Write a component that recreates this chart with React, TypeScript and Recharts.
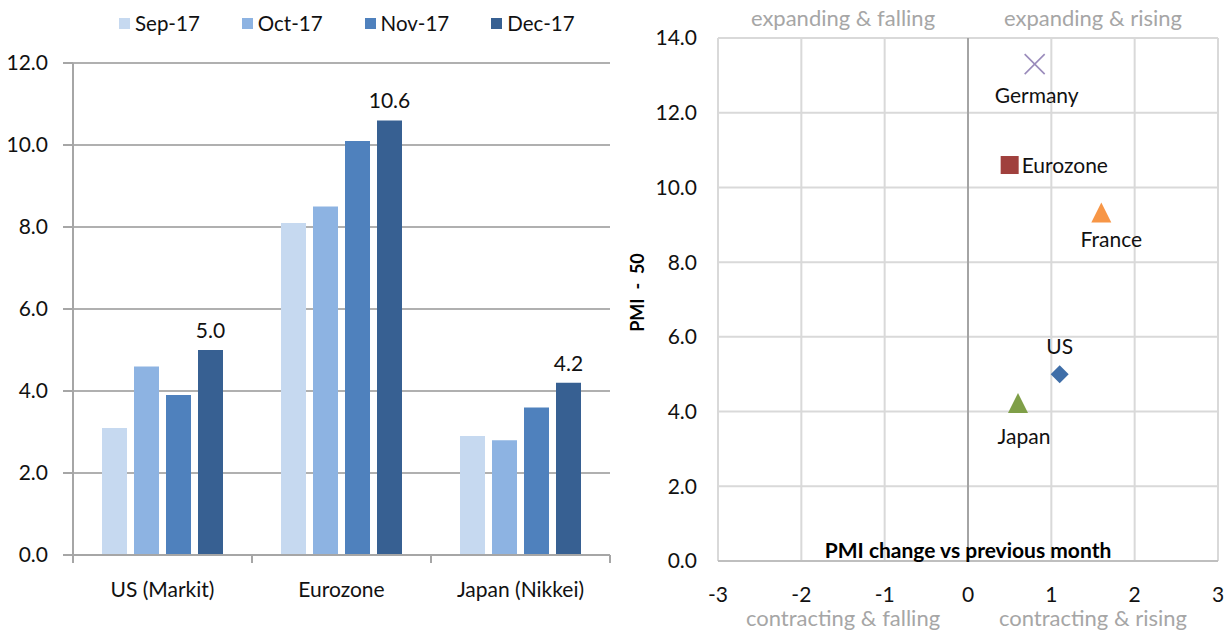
import {
  BarChart,
  Bar,
  XAxis,
  YAxis,
  CartesianGrid,
  LabelList,
  ScatterChart,
  Scatter,
  ReferenceLine,
  ReferenceArea,
  Label,
} from 'recharts';

// left panel: PMI - 50 by region, last four months
const regions = ['US (Markit)', 'Eurozone', 'Japan (Nikkei)'];
const months = ['Sep-17', 'Oct-17', 'Nov-17', 'Dec-17'];
const sep17 = [3.1, 8.1, 2.9];
const oct17 = [4.6, 8.5, 2.8];
const nov17 = [3.9, 10.1, 3.6];
const dec17 = [5.0, 10.6, 4.2];
const barTicks = [0, 2, 4, 6, 8, 10, 12];

// right panel: level vs change
const countries = ['Germany', 'Eurozone', 'France', 'US', 'Japan'];
const pmiChange = [0.8, 0.5, 1.6, 1.1, 0.6];
const pmiLevel = [13.3, 10.6, 9.3, 5.0, 4.2];
const xTicks = [-3, -2, -1, 0, 1, 2, 3];
const yTicks = [0, 2, 4, 6, 8, 10, 12, 14];
const quadrants = [
  { x1: -3, x2: 0, top: 'expanding & falling', bottom: 'contracting & falling' },
  { x1: 0, x2: 3, top: 'expanding & rising', bottom: 'contracting & rising' },
];

const FONT = 'Lato, "Noto Sans", sans-serif';
const monthColors = ['#c6d9f0', '#8db3e2', '#4f81bd', '#376092'];
const axisGray = '#a6a6a6';

// bar panel geometry
const BAR_W = 620;
const BAR_Y_W = 73;
const BAR_MR = 10;
const BAND = (BAR_W - BAR_Y_W - BAR_MR) / regions.length;

const barData = regions.map((region, i) => ({
  region,
  'Sep-17': sep17[i],
  'Oct-17': oct17[i],
  'Nov-17': nov17[i],
  'Dec-17': dec17[i],
}));

// region name + tick marks on the category edges (Excel style)
const RegionTick = (props: any) => {
  const { x, y, payload, index } = props;
  const left = x - BAND / 2;
  const right = x + BAND / 2;
  return (
    <g>
      <line x1={left} y1={y} x2={left} y2={y + 8} stroke={axisGray} strokeWidth={2} />
      {index === regions.length - 1 && (
        <line x1={right} y1={y} x2={right} y2={y + 8} stroke={axisGray} strokeWidth={2} />
      )}
      <text x={x} y={y + 33} textAnchor="middle" dominantBaseline="central" fontSize={21} fontFamily={FONT} fill="#111">
        {payload.value}
      </text>
    </g>
  );
};

// marker style + where its name goes, per country
const markerStyle: Record<string, { kind: string; color: string; dx: number; dy: number; anchor: string }> = {
  Germany: { kind: 'x', color: '#9a8bbb', dx: 2, dy: 30, anchor: 'middle' },
  Eurozone: { kind: 'square', color: '#a0403d', dx: 12, dy: -1, anchor: 'start' },
  France: { kind: 'triangle', color: '#f79646', dx: 10, dy: 25, anchor: 'middle' },
  US: { kind: 'diamond', color: '#3f6ea8', dx: 0, dy: -29, anchor: 'middle' },
  Japan: { kind: 'triangle', color: '#7f9f48', dx: 6, dy: 31, anchor: 'middle' },
};

const CountryMarker = (props: any) => {
  const { cx, cy, payload } = props;
  const s = markerStyle[payload.name];
  let mark = null;
  if (s.kind === 'x') {
    mark = (
      <g stroke={s.color} strokeWidth={1.6}>
        <line x1={cx - 10} y1={cy - 10} x2={cx + 10} y2={cy + 10} />
        <line x1={cx - 10} y1={cy + 10} x2={cx + 10} y2={cy - 10} />
      </g>
    );
  } else if (s.kind === 'square') {
    mark = <rect x={cx - 9} y={cy - 9} width={18} height={18} fill={s.color} />;
  } else if (s.kind === 'triangle') {
    mark = <polygon points={`${cx},${cy - 11} ${cx + 10},${cy + 9} ${cx - 10},${cy + 9}`} fill={s.color} />;
  } else {
    mark = <polygon points={`${cx},${cy - 9} ${cx + 9},${cy} ${cx},${cy + 9} ${cx - 9},${cy}`} fill={s.color} />;
  }
  return (
    <g>
      {mark}
      <text
        x={cx + s.dx}
        y={cy + s.dy}
        textAnchor={s.anchor as any}
        dominantBaseline="central"
        fontSize={21}
        fontFamily={FONT}
        fill="#111"
      >
        {payload.name}
      </text>
    </g>
  );
};

const YTitle = ({ viewBox }: any) => {
  const x = viewBox.x + 17;
  const y = viewBox.y + viewBox.height / 2 - 7;
  return (
    <text
      x={x}
      y={y}
      transform={`rotate(-90 ${x} ${y})`}
      textAnchor="middle"
      dominantBaseline="central"
      fontSize={18}
      fontWeight="bold"
      fontFamily={FONT}
      fill="#000"
      style={{ whiteSpace: 'pre' }}
    >
      {'PMI  -  50'}
    </text>
  );
};

export default function App() {
  const tickFont = { fontSize: 21, fill: '#111', fontFamily: FONT };
  return (
    <div style={{ position: 'absolute', left: 0, top: 0, width: 1226, height: 633, background: '#fff', fontFamily: FONT }}>
      {/* legend for the bar panel */}
      <div style={{ position: 'absolute', top: 11, left: 119, display: 'flex', alignItems: 'center' }}>
        {months.map((m, i) => (
          <div key={m} style={{ display: 'flex', alignItems: 'center', marginRight: 42 }}>
            <span style={{ width: 11, height: 11, background: monthColors[i], display: 'inline-block', marginRight: 5 }} />
            <span style={{ fontSize: 20.5, color: '#111' }}>{m}</span>
          </div>
        ))}
      </div>

      <div style={{ position: 'absolute', left: 0, top: 0 }}>
        <BarChart
          width={BAR_W}
          height={633}
          data={barData}
          margin={{ top: 63, right: BAR_MR, left: 0, bottom: 0 }}
          barCategoryGap={29}
          barGap={7}
        >
          <CartesianGrid vertical={false} stroke="#b0b0b0" strokeWidth={2} />
          <XAxis
            dataKey="region"
            height={78}
            interval={0}
            axisLine={{ stroke: axisGray, strokeWidth: 2 }}
            tickLine={false}
            tickSize={0}
            tickMargin={0}
            tick={<RegionTick />}
          />
          <YAxis
            width={BAR_Y_W}
            domain={[0, 12]}
            ticks={barTicks}
            tickFormatter={(v: number) => v.toFixed(1)}
            tick={tickFont}
            axisLine={{ stroke: axisGray, strokeWidth: 2 }}
            tickLine={{ stroke: axisGray, strokeWidth: 2 }}
            tickSize={10}
            tickMargin={15}
          />
          {months.map((m, i) => (
            <Bar key={m} dataKey={m} fill={monthColors[i]} isAnimationActive={false}>
              {i === months.length - 1 && (
                <LabelList
                  dataKey={m}
                  position="top"
                  offset={12}
                  formatter={(v: any) => Number(v).toFixed(1)}
                  style={{ fontSize: 21, fill: '#111', fontFamily: FONT }}
                />
              )}
            </Bar>
          ))}
        </BarChart>
      </div>

      <div style={{ position: 'absolute', left: 620, top: 0 }}>
        <ScatterChart width={606} height={633} margin={{ top: 38, right: 8, left: 0, bottom: 0 }}>
          <CartesianGrid stroke="#d9d9d9" strokeWidth={2} />
          <XAxis
            type="number"
            dataKey="x"
            domain={[-3, 3]}
            ticks={xTicks}
            height={72}
            axisLine={false}
            tickLine={false}
            tickSize={0}
            tickMargin={26}
            tick={tickFont}
          />
          <YAxis
            type="number"
            dataKey="y"
            domain={[0, 14]}
            ticks={yTicks}
            width={98}
            axisLine={false}
            tickLine={false}
            tickSize={0}
            tickMargin={21}
            tickFormatter={(v: number) => v.toFixed(1)}
            tick={tickFont}
            label={<YTitle />}
          />
          {quadrants.map((q) => (
            <ReferenceArea key={q.top} x1={q.x1} x2={q.x2} y1={0} y2={14} fill="none" stroke="none">
              <Label value={q.top} position="top" offset={12} fill="#a6a6a6" fontSize={22} fontFamily={FONT} />
              <Label value={q.bottom} position="bottom" offset={49} fill="#a6a6a6" fontSize={22} fontFamily={FONT} />
            </ReferenceArea>
          ))}
          <ReferenceLine x={0} stroke="#808080" strokeWidth={1.2} />
          <ReferenceLine y={0} stroke="#bfbfbf" strokeWidth={2}>
            <Label
              value="PMI change  vs previous month"
              position="top"
              offset={3}
              fill="#000"
              fontSize={21}
              fontWeight="bold"
              fontFamily={FONT}
            />
          </ReferenceLine>
          {countries.map((c, i) => (
            <Scatter
              key={c}
              name={c}
              data={[{ name: c, x: pmiChange[i], y: pmiLevel[i] }]}
              shape={<CountryMarker />}
              isAnimationActive={false}
            />
          ))}
        </ScatterChart>
      </div>
    </div>
  );
}
